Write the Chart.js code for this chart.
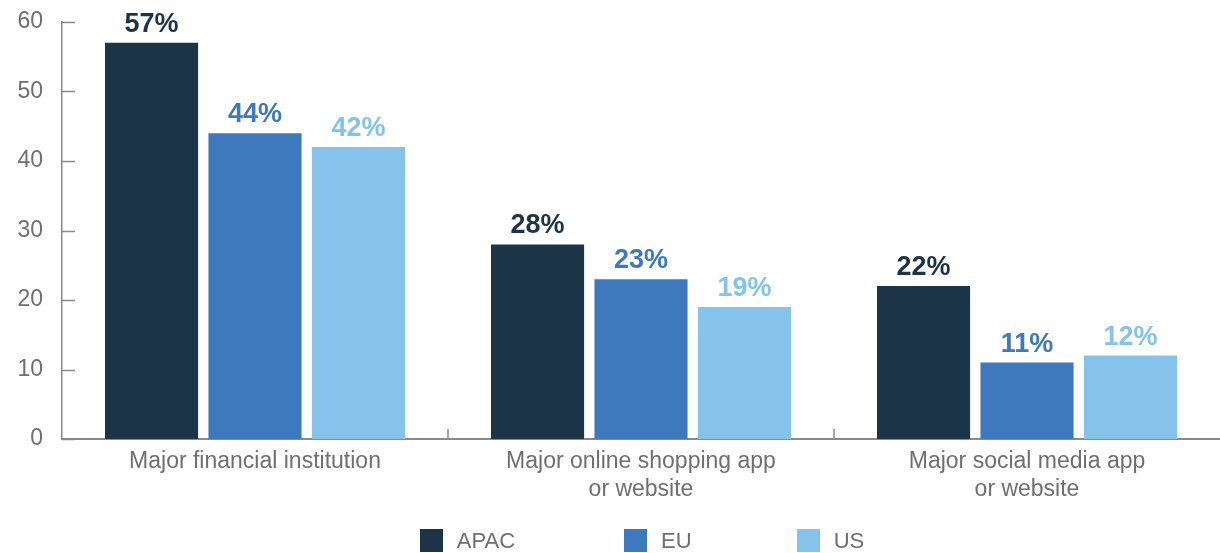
<!DOCTYPE html>
<html>
<head>
<meta charset="utf-8">
<script src="https://cdn.jsdelivr.net/npm/chart.js@4/dist/chart.umd.min.js"></script>
<style>
  body { margin: 0; background: #fff; }
  #wrap { position: relative; width: 1220px; height: 553px; }
  #legend {
    position: absolute; top: 529px; left: 63px; width: 1158px; height: 23px;
    display: flex; justify-content: center; align-items: center; gap: 105px;
    font-family: "Liberation Sans", Arial, sans-serif; font-size: 22px; color: #6f6f6f;
  }
  #legend .item { display: flex; align-items: center; }
  #legend .item:first-child { margin-right: 4px; }
  #legend .box { width: 23px; height: 23px; margin-right: 14px; }
</style>
</head>
<body>
<div id="wrap">
  <canvas id="chart" width="1220" height="553"></canvas>
  <div id="legend"></div>
</div>
<script>
const categories = [
  ["Major financial institution"],
  ["Major online shopping app", "or website"],
  ["Major social media app", "or website"]
];
const seriesNames = ["APAC", "EU", "US"];
const apacValues = [57, 28, 22];
const euValues = [44, 23, 11];
const usValues = [42, 19, 12];
const yTicks = [0, 10, 20, 30, 40, 50, 60];

const colors = ["#1c3448", "#3e78bd", "#86c3ea"];
const axisGrey = "#8a8a8a";
const textGrey = "#6f6f6f";
const fontFamily = '"Liberation Sans", Arial, sans-serif';

// value labels above the bars, coloured like the bar
const barLabels = {
  id: "barLabels",
  afterDatasetsDraw(chart) {
    const ctx = chart.ctx;
    ctx.save();
    ctx.font = "bold 27px " + fontFamily;
    ctx.textAlign = "center";
    ctx.textBaseline = "alphabetic";
    chart.data.datasets.forEach((ds, i) => {
      chart.getDatasetMeta(i).data.forEach((bar, j) => {
        ctx.fillStyle = ds.backgroundColor;
        ctx.fillText(ds.data[j] + "%", bar.x, bar.y - 11);
      });
    });
    ctx.restore();
  }
};

// short tick marks drawn inwards on both axes
const innerTicks = {
  id: "innerTicks",
  afterDraw(chart) {
    const ctx = chart.ctx;
    const x = chart.scales.x;
    const y = chart.scales.y;
    ctx.save();
    ctx.strokeStyle = axisGrey;
    ctx.lineWidth = 1.5;
    ctx.beginPath();
    y.ticks.forEach((t) => {
      const py = Math.round(y.getPixelForValue(t.value)) + 0.5;
      ctx.moveTo(x.left, py);
      ctx.lineTo(x.left + 13, py);
    });
    for (let i = 0; i < categories.length - 1; i++) {
      const px = Math.round((x.getPixelForTick(i) + x.getPixelForTick(i + 1)) / 2);
      ctx.moveTo(px, y.bottom);
      ctx.lineTo(px, y.bottom - 10);
    }
    ctx.stroke();
    ctx.restore();
  }
};

const datasets = [apacValues, euValues, usValues].map((vals, i) => ({
  label: seriesNames[i],
  data: vals,
  backgroundColor: colors[i],
  borderWidth: 0,
  categoryPercentage: 0.804,
  barPercentage: 0.9
}));

const chart = new Chart(document.getElementById("chart"), {
  type: "bar",
  data: { labels: categories, datasets: datasets },
  options: {
    responsive: false,
    animation: false,
    layout: { padding: { top: 22, right: 0, bottom: 40, left: 0 } },
    plugins: {
      legend: { display: false },
      tooltip: { enabled: false }
    },
    scales: {
      x: {
        grid: { display: false, drawTicks: false },
        border: { display: true, color: axisGrey, width: 2 },
        ticks: {
          color: textGrey,
          font: { family: fontFamily, size: 23, lineHeight: "28px" },
          padding: 9,
          maxRotation: 0,
          autoSkip: false
        }
      },
      y: {
        min: 0,
        max: 60,
        afterFit(scale) {
          scale.width = 62;
          scale.paddingTop = 0;
        },
        afterBuildTicks(scale) { scale.ticks = yTicks.map((v) => ({ value: v })); },
        grid: { display: false, drawTicks: false },
        border: { display: true, color: axisGrey, width: 1.5 },
        ticks: {
          color: textGrey,
          font: { family: fontFamily, size: 23 },
          padding: 19
        }
      }
    }
  },
  plugins: [barLabels, innerTicks]
});

// legend built from the chart's datasets
const legend = document.getElementById("legend");
chart.data.datasets.forEach((ds) => {
  const item = document.createElement("div");
  item.className = "item";
  const box = document.createElement("span");
  box.className = "box";
  box.style.background = ds.backgroundColor;
  const txt = document.createElement("span");
  txt.textContent = ds.label;
  item.appendChild(box);
  item.appendChild(txt);
  legend.appendChild(item);
});
</script>
</body>
</html>
